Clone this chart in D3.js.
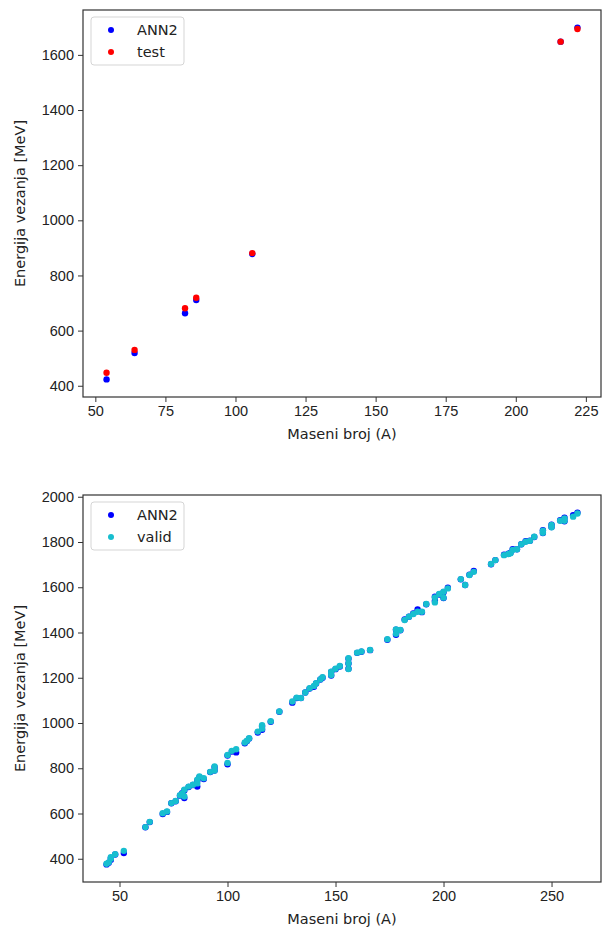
<!DOCTYPE html>
<html>
<head>
<meta charset="utf-8">
<script src="https://cdn.jsdelivr.net/npm/d3@7"></script>
<style>
  body { margin: 0; background: #fff; }
  svg { display: block; font-family: "DejaVu Sans", sans-serif; }
  .axis path, .axis line { stroke: #333; }
  .axis text { font-size: 14.5px; fill: #222; }
  .label { font-size: 14.5px; fill: #222; }
</style>
</head>
<body>
<div id="chart"></div>
<script>
// top panel: test set
const massTest = [54, 64, 82, 86, 106, 216, 222]
const ann2Test = [423, 519, 663, 711, 878, 1648, 1699]
const energyTest = [447, 530, 681, 719, 881, 1648, 1694]

// bottom panel: validation set
const massValid = [44, 45, 46, 46, 48, 52, 62, 64, 70, 72, 74, 76, 78, 79, 80, 80, 82, 84, 86, 86,
  87, 89, 92, 94, 94, 100, 100, 102, 104, 108, 109, 110, 114, 116, 116, 120, 124, 130, 132, 134,
  136, 138, 140, 141, 143, 144, 148, 148, 150, 152, 156, 156, 156, 160, 162, 166, 174, 178, 178, 180,
  182, 184, 186, 188, 190, 192, 196, 196, 198, 200, 200, 202, 208, 210, 212, 214, 222, 224, 228, 230,
  231, 232, 234, 236, 238, 240, 242, 246, 246, 250, 250, 254, 256, 256, 260, 262]
const energyValid = [378, 384, 400, 407, 420, 435, 540, 563, 601, 609, 646, 655, 681, 688, 705, 675, 719, 727, 733, 749,
  764, 756, 784, 790, 808, 823, 859, 877, 884, 914, 922, 933, 962, 990, 975, 1008, 1051, 1095, 1112, 1111,
  1135, 1154, 1164, 1176, 1193, 1202, 1212, 1227, 1240, 1252, 1286, 1264, 1239, 1311, 1316, 1323, 1370, 1394, 1414, 1411,
  1455, 1470, 1482, 1492, 1492, 1526, 1533, 1555, 1570, 1554, 1580, 1595, 1636, 1610, 1654, 1668, 1703, 1720, 1742, 1747,
  1750, 1765, 1768, 1790, 1801, 1805, 1823, 1841, 1850, 1865, 1875, 1894, 1894, 1904, 1912, 1926]
const ann2Valid = [375, 382, 396, 404, 419, 425, 539, 562, 598, 607, 645, 654, 679, 690, 702, 668, 717, 726, 719, 745,
  760, 752, 783, 790, 805, 818, 856, 874, 870, 910, 920, 931, 958, 985, 970, 1005, 1050, 1090, 1110, 1110,
  1135, 1152, 1160, 1175, 1192, 1200, 1210, 1226, 1238, 1250, 1284, 1263, 1240, 1310, 1315, 1322, 1368, 1390, 1412, 1410,
  1458, 1470, 1484, 1502, 1490, 1525, 1540, 1558, 1568, 1552, 1578, 1598, 1635, 1610, 1655, 1672, 1702, 1720, 1744, 1748,
  1752, 1768, 1768, 1790, 1803, 1806, 1822, 1840, 1852, 1866, 1877, 1896, 1892, 1907, 1918, 1930]

const xLabel = 'Maseni broj (A)'
const yLabel = 'Energija vezanja [MeV]'

const width = 603, height = 927
const svg = d3.select('#chart').append('svg')
    .attr('width', width)
    .attr('height', height)

// matplotlib style 5% padding around the data
function padded(values) {
  const [lo, hi] = d3.extent(values)
  const pad = (hi - lo) * 0.05
  return [lo - pad, hi + pad]
}

function panel(top, mass, ann2, other, otherColor, otherName, xTicks, yTicks) {
  const left = 83, w = 518, h = 387
  const g = svg.append('g').attr('transform', 'translate(' + left + ',' + top + ')')

  const x = d3.scaleLinear().domain(padded(mass)).range([0, w])
  const y = d3.scaleLinear().domain(padded(ann2.concat(other))).range([h, 0])

  g.append('g')
      .attr('class', 'axis')
      .attr('transform', 'translate(0,' + h + ')')
      .call(d3.axisBottom(x).tickValues(xTicks).tickFormat(d3.format('d'))
        .tickSize(5).tickPadding(4).tickSizeOuter(0))
  g.append('g')
      .attr('class', 'axis')
      .call(d3.axisLeft(y).tickValues(yTicks).tickFormat(d3.format('d'))
        .tickSize(5).tickPadding(4).tickSizeOuter(0))

  g.selectAll('.domain').remove()
  g.append('rect')
      .attr('width', w).attr('height', h)
      .attr('fill', 'none').attr('stroke', '#333').attr('stroke-width', 1.2)

  const dots = g.append('g')
  dots.selectAll('.ann2')
    .data(mass.map((m, i) => [m, ann2[i]]))
    .enter().append('circle')
      .attr('class', 'ann2')
      .attr('cx', d => x(d[0])).attr('cy', d => y(d[1]))
      .attr('r', 3.2).attr('fill', '#0000ff')
  dots.selectAll('.other')
    .data(mass.map((m, i) => [m, other[i]]))
    .enter().append('circle')
      .attr('class', 'other')
      .attr('cx', d => x(d[0])).attr('cy', d => y(d[1]))
      .attr('r', 3.2).attr('fill', otherColor)

  // legend
  const legend = g.append('g').attr('transform', 'translate(8,7)')
  legend.append('rect')
      .attr('width', 93).attr('height', 48).attr('rx', 3)
      .attr('fill', '#fff').attr('fill-opacity', 0.8)
      .attr('stroke', '#d5d5d5')
  const items = [['ANN2', '#0000ff'], [otherName, otherColor]]
  items.forEach((it, i) => {
    legend.append('circle').attr('cx', 20).attr('cy', 13 + i * 22).attr('r', 3).attr('fill', it[1])
    legend.append('text').attr('class', 'label')
        .attr('x', 46).attr('y', 13 + i * 22).attr('dy', '0.36em')
        .text(it[0])
  })

  g.append('text').attr('class', 'label')
      .attr('x', w / 2).attr('y', h + 42)
      .attr('text-anchor', 'middle')
      .text(xLabel)
  g.append('text').attr('class', 'label')
      .attr('transform', 'translate(' + (-58) + ',' + (h / 2) + ') rotate(-90)')
      .attr('text-anchor', 'middle')
      .text(yLabel)
}

panel(10, massTest, ann2Test, energyTest, '#ff0000', 'test',
  [50, 75, 100, 125, 150, 175, 200, 225], [400, 600, 800, 1000, 1200, 1400, 1600])
panel(495, massValid, ann2Valid, energyValid, '#17becf', 'valid',
  [50, 100, 150, 200, 250], [400, 600, 800, 1000, 1200, 1400, 1600, 1800, 2000])
</script>
</body>
</html>
